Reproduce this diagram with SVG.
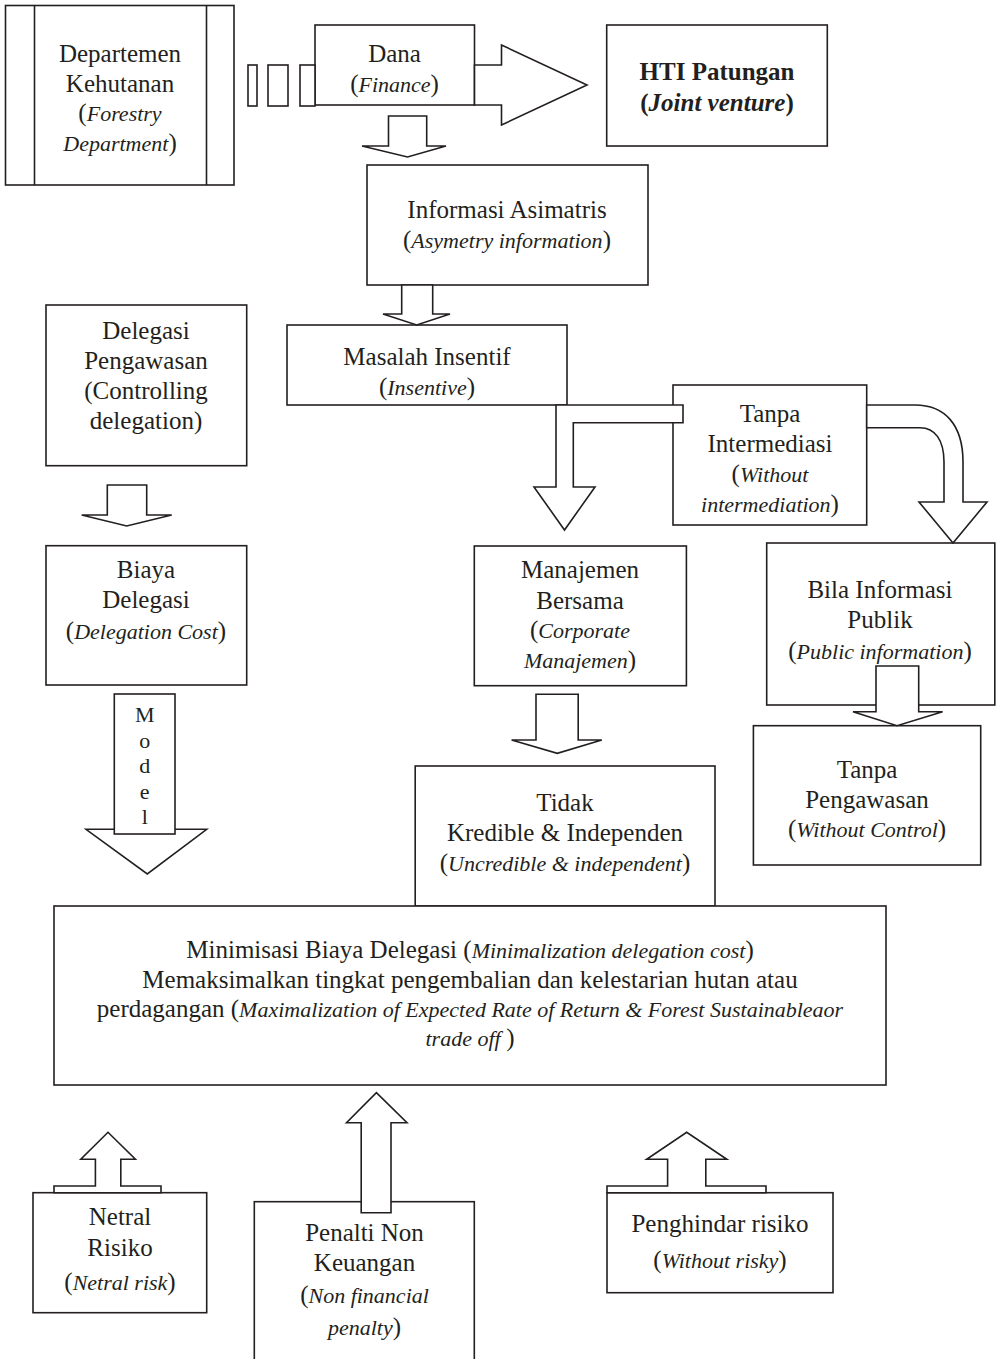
<svg xmlns="http://www.w3.org/2000/svg" width="997" height="1359" viewBox="0 0 997 1359">
<style>
.b{fill:#fff;stroke:#231f20;stroke-width:1.6}
.a{fill:#fff;stroke:#231f20;stroke-width:1.6;stroke-linejoin:miter}
.l{fill:none;stroke:#231f20;stroke-width:1.6}
text{font-family:"Liberation Serif","Times New Roman",serif;font-size:25px;fill:#231f20;text-anchor:middle}
.i{font-style:italic;font-size:22px}
.bd{font-weight:bold}
.m{font-size:22px}
</style>
<rect width="997" height="1359" fill="#fff"/>
<g id="departemen">
<rect class="b" x="5.5" y="5.5" width="228.5" height="179.5"/>
<line class="l" x1="34.5" y1="5.5" x2="34.5" y2="185"/>
<line class="l" x1="206.5" y1="5.5" x2="206.5" y2="185"/>
<text x="120" y="62">Departemen</text>
<text x="120" y="92">Kehutanan</text>
<text x="120" y="121">(<tspan class="i">Forestry</tspan></text>
<text x="120" y="151"><tspan class="i">Department</tspan>)</text>
</g>
<g id="dana">
<rect class="b" x="315" y="25" width="159.5" height="80"/>
<text x="394.5" y="62">Dana</text>
<text x="394.5" y="92">(<tspan class="i">Finance</tspan>)</text>
</g>
<g id="hti">
<rect class="b" x="606.7" y="25" width="220.6" height="121"/>
<text class="bd" x="717" y="80">HTI Patungan</text>
<text class="bd" x="717" y="111">(<tspan font-style="italic">Joint venture</tspan>)</text>
</g>
<g id="informasi">
<rect class="b" x="367" y="165" width="281" height="120"/>
<text x="507" y="218">Informasi Asimatris</text>
<text x="507" y="248">(<tspan class="i">Asymetry information</tspan>)</text>
</g>
<g id="masalah">
<rect class="b" x="287" y="325" width="280" height="80"/>
<text x="427" y="365">Masalah Insentif</text>
<text x="427" y="395">(<tspan class="i">Insentive</tspan>)</text>
</g>
<g id="tanpa-intermediasi">
<rect class="b" x="673" y="385" width="193.7" height="140"/>
<text x="770" y="422">Tanpa</text>
<text x="770" y="452">Intermediasi</text>
<text x="770" y="482">(<tspan class="i">Without</tspan></text>
<text x="770" y="512"><tspan class="i">intermediation</tspan>)</text>
</g>
<g id="delegasi-pengawasan">
<rect class="b" x="46" y="305" width="200.7" height="160.7"/>
<text x="146" y="339">Delegasi</text>
<text x="146" y="369">Pengawasan</text>
<text x="146" y="399">(Controlling</text>
<text x="146" y="429">delegation)</text>
</g>
<g id="biaya-delegasi">
<rect class="b" x="46" y="545.7" width="200.7" height="139.3"/>
<text x="146" y="578">Biaya</text>
<text x="146" y="608">Delegasi</text>
<text x="146" y="639">(<tspan class="i">Delegation Cost</tspan>)</text>
</g>
<g id="manajemen">
<rect class="b" x="474.3" y="546" width="212.1" height="139.7"/>
<text x="580" y="578">Manajemen</text>
<text x="580" y="609">Bersama</text>
<text x="580" y="638">(<tspan class="i">Corporate</tspan></text>
<text x="580" y="668"><tspan class="i">Manajemen</tspan>)</text>
</g>
<g id="bila-informasi">
<rect class="b" x="766.7" y="543" width="228.1" height="162"/>
<text x="880" y="598">Bila Informasi</text>
<text x="880" y="628">Publik</text>
<text x="880" y="659">(<tspan class="i">Public information</tspan>)</text>
</g>
<g id="tanpa-pengawasan">
<rect class="b" x="753.4" y="725.7" width="227.3" height="139.3"/>
<text x="867" y="778">Tanpa</text>
<text x="867" y="808">Pengawasan</text>
<text x="867" y="837">(<tspan class="i">Without Control</tspan>)</text>
</g>
<g id="tidak-kredible">
<rect class="b" x="415.2" y="766" width="299.8" height="140"/>
<text x="565" y="811">Tidak</text>
<text x="565" y="841">Kredible &amp; Independen</text>
<text x="565" y="871">(<tspan class="i">Uncredible &amp; independent</tspan>)</text>
</g>
<g id="minimisasi">
<rect class="b" x="54" y="906" width="832" height="179"/>
<text x="470" y="958">Minimisasi Biaya Delegasi (<tspan class="i">Minimalization delegation cost</tspan>)</text>
<text x="470" y="988">Memaksimalkan tingkat pengembalian dan kelestarian hutan atau</text>
<text x="470" y="1017">perdagangan (<tspan class="i">Maximalization of  Expected Rate of  Return &amp; Forest Sustainableaor</tspan></text>
<text x="470" y="1046"><tspan class="i">trade off </tspan>)</text>
</g>
<g id="netral-risiko">
<rect class="b" x="33" y="1192.7" width="173.7" height="120"/>
<text x="120" y="1225">Netral</text>
<text x="120" y="1256">Risiko</text>
<text x="120" y="1290">(<tspan class="i">Netral risk</tspan>)</text>
</g>
<g id="penalti">
<rect class="b" x="254.3" y="1201.7" width="220" height="170"/>
<text x="364.5" y="1241">Penalti Non</text>
<text x="364.5" y="1271">Keuangan</text>
<text x="364.5" y="1303">(<tspan class="i">Non financial</tspan></text>
<text x="364.5" y="1335"><tspan class="i">penalty</tspan>)</text>
</g>
<g id="penghindar-risiko">
<rect class="b" x="607" y="1192.7" width="226" height="100"/>
<text x="720" y="1232">Penghindar risiko</text>
<text x="720" y="1268">(<tspan class="i">Without risky</tspan>)</text>
</g>
<g id="connectors">
<rect class="b" x="248" y="65" width="9" height="41"/>
<rect class="b" x="268" y="65" width="20" height="41"/>
<rect class="b" x="300" y="65" width="15" height="41"/>
<polygon class="a" points="474.5,65 501.5,65 501.5,45 587,85 501.5,125 501.5,105 474.5,105"/>
<polygon class="a" points="388.5,116 426.7,116 426.7,146 446,146 407.5,157 362,146 388.5,146"/>
<polygon class="a" points="401.7,285 432.7,285 432.7,314 450,314 416.7,325 383,314 401.7,314"/>
<polygon class="a" points="556,405 683,405 683,422.7 573.3,422.7 573.3,487 595,487 564.5,530 534,487 556,487"/>
<path class="a" d="M866.7,405 H915 C945,405 963,425 963,462 V502 H987 L953,543 L919,502 H944 V462 C944,440 935,427.7 920,427.7 H866.7 Z"/>
<polygon class="a" points="107.3,485 146.7,485 146.7,515 171.7,515 126.7,526 81.7,515 107.3,515"/>
<polygon class="a" points="86,829.3 206.7,829.3 147.3,874"/>
<rect class="b" x="114.3" y="694" width="60.7" height="140"/>
<text class="m" x="144.7" y="722">M</text>
<text class="m" x="144.7" y="748">o</text>
<text class="m" x="144.7" y="773">d</text>
<text class="m" x="144.7" y="799">e</text>
<text class="m" x="144.7" y="824">l</text>
<polygon class="a" points="536,694.3 578.2,694.3 578.2,740 601.8,740 557.3,753.3 511.6,740 536,740"/>
<polygon class="a" points="876,666 918.7,666 918.7,711.7 942.6,711.7 897,725.7 853,711.7 876,711.7"/>
<polygon class="a" points="54,1192.7 54,1186 95.4,1186 95.4,1159.3 80.8,1159.3 108,1132.3 135.4,1159.3 120.8,1159.3 120.8,1186 161,1186 161,1192.7"/>
<polygon class="a" points="361.2,1212.7 361.2,1122.7 346.5,1122.7 376.4,1092.7 407,1122.7 391,1122.7 391,1212.7"/>
<polygon class="a" points="607,1192.7 607,1186 667.6,1186 667.6,1159.3 646.7,1159.3 686.7,1132.3 726.8,1159.3 705.8,1159.3 705.8,1186 766,1186 766,1192.7"/>
</g>
</svg>
